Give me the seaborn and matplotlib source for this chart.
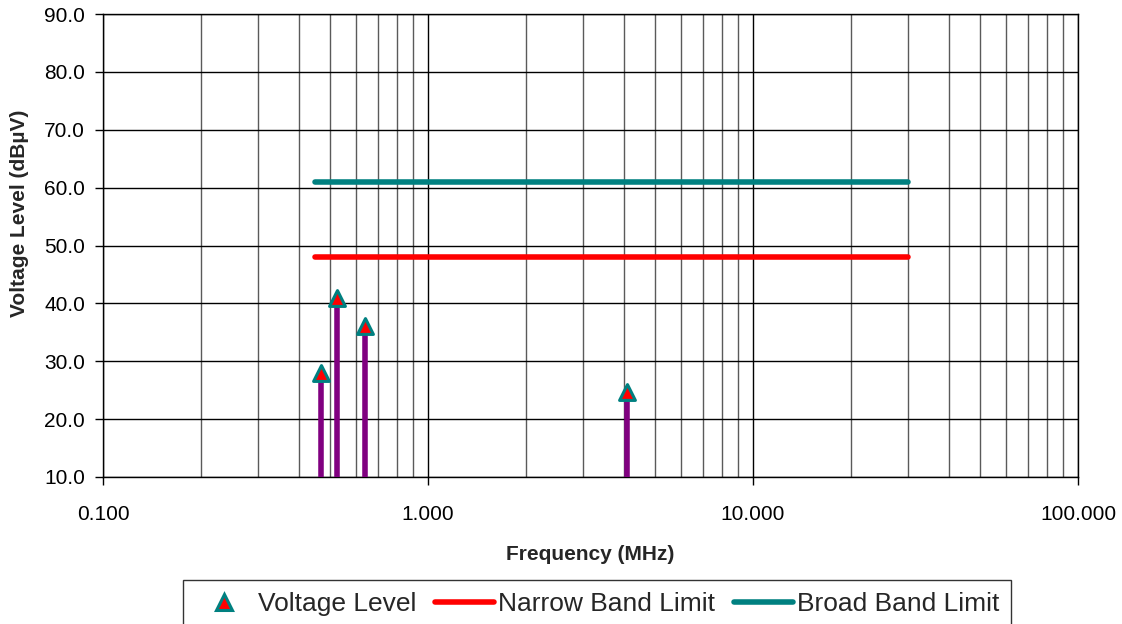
import matplotlib
matplotlib.use("Agg")
import matplotlib.pyplot as plt
import matplotlib.ticker as mticker
from matplotlib.lines import Line2D
import seaborn as sns
import pandas as pd

# ---- data ----
peak_freq = [0.469, 0.526, 0.640, 4.10]          # MHz
peak_level = [27.9, 40.9, 36.1, 24.7]            # dBµV
limit_freq = [0.45, 0.50, 30.0]                  # MHz
narrow_limit = [48.0, 48.0, 48.0]                # dBµV
broad_limit = [61.0, 61.0, 61.0]                 # dBµV
x_ticks = [0.1, 1.0, 10.0, 100.0]
y_ticks = [10, 20, 30, 40, 50, 60, 70, 80, 90]

sns.set_theme(style="white")
plt.rcParams['font.family'] = ['Liberation Sans', 'DejaVu Sans']

fig = plt.figure(figsize=(11.22, 6.24), dpi=100)
ax = fig.add_axes([103/1122, 1-477/624, (1078-103)/1122, (477-14)/624])

peaks = pd.DataFrame({"f": peak_freq, "v": peak_level})
limits = pd.DataFrame({"f": limit_freq, "nb": narrow_limit, "bb": broad_limit})

ax.set_xscale("log")
ax.set_xlim(0.1, 100)
ax.set_ylim(10, 90)

# grid
ax.set_axisbelow(True)
ax.xaxis.set_major_locator(mticker.FixedLocator(x_ticks))
ax.xaxis.set_minor_locator(mticker.LogLocator(base=10, subs=range(2, 10)))
ax.xaxis.set_minor_formatter(mticker.NullFormatter())
ax.xaxis.set_major_formatter(mticker.FuncFormatter(lambda v, p: f"{v:.3f}"))
ax.yaxis.set_major_locator(mticker.FixedLocator(y_ticks))
ax.yaxis.set_major_formatter(mticker.FuncFormatter(lambda v, p: f"{v:.1f}"))
ax.grid(True, which="major", axis="both", color="black", lw=1.0)
ax.grid(True, which="minor", axis="x", color="#5a5a5a", lw=1.0)

# stems
ax.vlines(peaks["f"], 10, peaks["v"], color="#800080", lw=4.0, zorder=3)

sns.lineplot(data=limits, x="f", y="nb", ax=ax, color="#FF0000", lw=4.0,
             solid_capstyle="round", zorder=4, legend=False)
sns.lineplot(data=limits, x="f", y="bb", ax=ax, color="#008080", lw=4.0,
             solid_capstyle="round", zorder=4, legend=False)
sns.scatterplot(data=peaks, x="f", y="v", ax=ax, marker="^", s=130,
                color="#FF0000", edgecolor="#008080", linewidth=2.2,
                zorder=5, legend=False)

for s in ax.spines.values():
    s.set_color("black")
    s.set_linewidth(1.0)

ax.tick_params(axis="x", which="major", bottom=True, length=6, width=1,
               color="black", pad=14, labelsize=15, labelcolor="black")
ax.tick_params(axis="x", which="minor", bottom=False, length=0)
ax.tick_params(axis="y", which="major", left=True, length=6, width=1,
               color="black", pad=7, labelsize=15, labelcolor="black")

ax.set_xlabel("Frequency (MHz)", fontsize=15, fontweight="bold", labelpad=15)
ax.set_ylabel("Voltage Level (dBµV)", fontsize=15, fontweight="bold")
ax.yaxis.set_label_coords(-0.076, 0.57)

handles = [
    Line2D([], [], marker="^", ls="none", markersize=11, markerfacecolor="#FF0000",
           markeredgecolor="#008080", markeredgewidth=2.2),
    Line2D([], [], color="#FF0000", lw=4, solid_capstyle="round"),
    Line2D([], [], color="#008080", lw=4, solid_capstyle="round"),
]
leg = fig.legend(handles, ["Voltage Level", "Narrow Band Limit", "Broad Band Limit"],
                 loc="upper center", bbox_to_anchor=(0.532, 1-580/624), ncol=3,
                 frameon=True, fancybox=False, fontsize=19, handlelength=2.25,
                 handletextpad=0.15, columnspacing=0.7, borderpad=0.45,
                 borderaxespad=0)
leg.get_frame().set_edgecolor("black")
leg.get_frame().set_linewidth(1.0)

fig.savefig("out.png", dpi=100)
